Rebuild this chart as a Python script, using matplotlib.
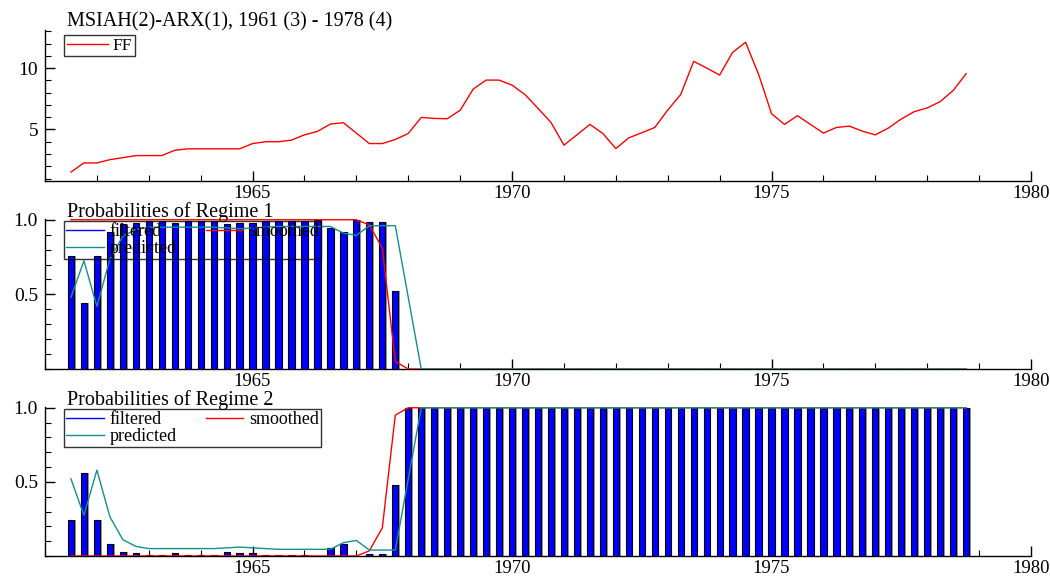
import matplotlib
matplotlib.use("Agg")
import matplotlib.pyplot as plt
from matplotlib.ticker import MultipleLocator, FixedLocator
from matplotlib.lines import Line2D
import numpy as np

plt.rcParams['font.family'] = ['Liberation Serif', 'DejaVu Serif']

# quarterly sample 1961 (3) - 1978 (4)
start_year, start_q, n_obs = 1961, 3, 70
dates = start_year + (start_q - 1) / 4 + 0.25 * np.arange(n_obs)

ff = [1.53, 2.27, 2.27, 2.54, 2.70, 2.87, 2.87, 2.87, 3.30, 3.42,
      3.42, 3.42, 3.42, 3.42, 3.85, 4.00, 4.00, 4.13, 4.56, 4.84,
      5.44, 5.55, 4.70, 3.85, 3.85, 4.18, 4.67, 5.98, 5.90, 5.87,
      6.56, 8.28, 9.02, 9.02, 8.61, 7.84, 6.72, 5.57, 3.72, 4.56,
      5.41, 4.67, 3.44, 4.32, 4.73, 5.16, 6.58, 7.84, 10.55, 10.00,
      9.43, 11.28, 12.10, 9.50, 6.28, 5.41, 6.12, 5.41, 4.70, 5.16,
      5.27, 4.86, 4.56, 5.11, 5.85, 6.45, 6.75, 7.27, 8.17, 9.54]

# regime 2 probabilities (regime 1 is the complement)
filtered2 = [0.24, 0.56, 0.24, 0.08, 0.03, 0.02, 0.01, 0.01, 0.02, 0.01,
             0.01, 0.01, 0.03, 0.02, 0.02, 0.01, 0.01, 0.01, 0.01, 0.002,
             0.055, 0.08, 0.003, 0.012, 0.012, 0.48] + [1.0] * 44
smoothed2 = [0.0] * 23 + [0.035, 0.19, 0.95] + [1.0] * 44
predicted2 = [0.52, 0.275, 0.58, 0.265, 0.11, 0.065, 0.05, 0.05, 0.05, 0.05,
              0.05, 0.05, 0.055, 0.06, 0.055, 0.05, 0.045, 0.045, 0.045, 0.045,
              0.045, 0.09, 0.105, 0.04, 0.04, 0.04, 0.52] + [1.0] * 43

title = "MSIAH(2)-ARX(1), 1961 (3) - 1978 (4)"
teal = '#148f8f'

fig = plt.figure(figsize=(10.5, 5.8), dpi=100)
W, H = 1050., 580.
left, right = 45, 1031
boxes = [(30, 181), (219, 369), (407, 556)]
axes = [fig.add_axes([left / W, 1 - b / H, (right - left) / W, (b - t) / H])
        for t, b in boxes]


def style(ax):
    for s in ['top', 'right']:
        ax.spines[s].set_visible(False)
    for s in ['left', 'bottom']:
        ax.spines[s].set_linewidth(1.0)
    ax.set_xlim(1961, 1980)
    ax.xaxis.set_major_locator(MultipleLocator(5))
    ax.xaxis.set_minor_locator(MultipleLocator(1))
    ax.tick_params(which='major', direction='in', length=7, width=1,
                   labelsize=14, pad=5)
    ax.tick_params(axis='x', which='major', labelsize=13.5, pad=3)
    ax.tick_params(which='minor', direction='in', length=4, width=0.8)
    ax.patch.set_visible(False)


def frame(leg):
    leg.get_frame().set_linewidth(1)
    leg.get_frame().set_facecolor('none')
    leg.set_zorder(5)


# top panel
ax = axes[0]
style(ax)
ax.plot(dates, ff, color='red', lw=1, label='FF')
ax.set_ylim(0.8, 13.1)
ax.yaxis.set_major_locator(FixedLocator([5, 10]))
ax.yaxis.set_minor_locator(MultipleLocator(1))
ax.text(22 / 986, 1 + 4 / 151, title, transform=ax.transAxes, fontsize=14.5,
        va='baseline', ha='left')
leg = ax.legend(loc='upper left', bbox_to_anchor=(19 / 986, 1 - 5 / 151),
                borderaxespad=0, fancybox=False, edgecolor='black',
                fontsize=12.5, handlelength=2.4, handletextpad=0.25,
                borderpad=0.15)
frame(leg)

# regime panels
for k, ax in enumerate(axes[1:]):
    style(ax)
    if k == 0:
        filt = 1 - np.array(filtered2)
        smo = 1 - np.array(smoothed2)
        pre = 1 - np.array(predicted2)
    else:
        filt = np.array(filtered2)
        smo = np.array(smoothed2)
        pre = np.array(predicted2)
    ax.bar(dates + 0.03, filt, width=0.12, color='#9a9a9a', lw=0, zorder=2)
    ax.bar(dates, filt, width=0.12, color='#0000ff', edgecolor='black',
           lw=0.8, zorder=3)
    ax.plot(dates, smo, color='red', lw=1, zorder=4)
    ax.plot(dates, pre, color=teal, lw=1, zorder=4)
    ax.set_ylim(0, 1.005)
    ax.yaxis.set_major_locator(FixedLocator([0.5, 1.0]))
    ax.yaxis.set_minor_locator(MultipleLocator(0.1))
    ax.yaxis.set_major_formatter(plt.FormatStrFormatter('%.1f'))
    ax.text(22 / 986, 1 + 2 / 150, 'Probabilities of Regime %d' % (k + 1),
            transform=ax.transAxes, fontsize=14.5, va='baseline', ha='left')
    handles = [Line2D([], [], color='#0000ff', lw=1),
               Line2D([], [], color=teal, lw=1),
               Line2D([], [], color='red', lw=1)]
    leg = ax.legend(handles, ['filtered', 'predicted', 'smoothed'],
                    ncol=2, loc='upper left',
                    bbox_to_anchor=(19 / 986, 1 - 2 / 150),
                    borderaxespad=0, fancybox=False, edgecolor='black',
                    fontsize=13, handlelength=2.1, handletextpad=0.3,
                    columnspacing=1.6, labelspacing=0.0, borderpad=0.12)
    frame(leg)

fig.savefig('out.png', dpi=100)
